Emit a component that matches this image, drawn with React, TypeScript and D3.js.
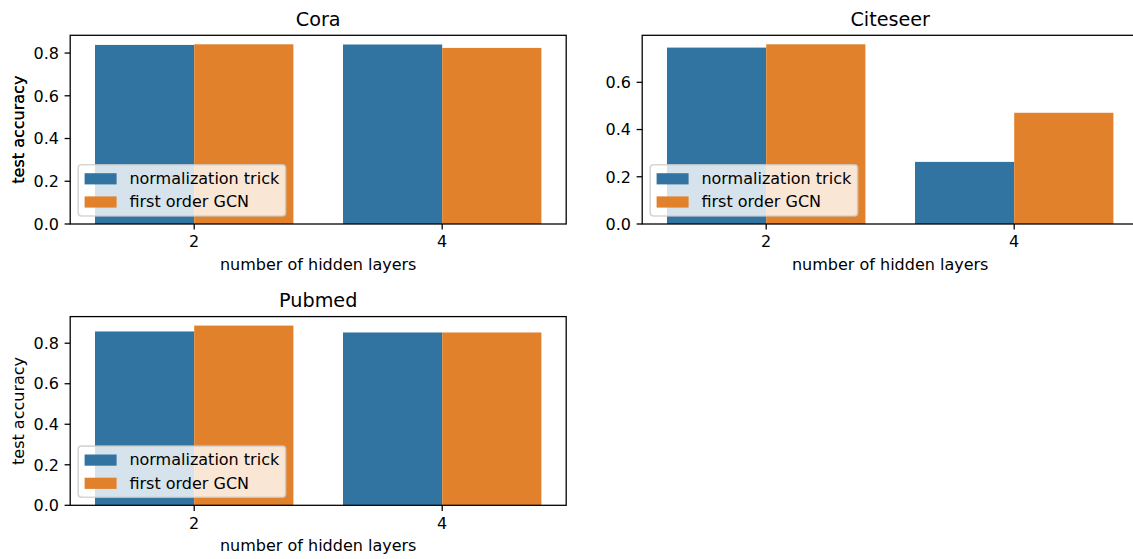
import React from "react";
import * as d3 from "d3";

// Hidden-layer settings on the x axis and the two model variants.
const layers = ["2", "4"];
const seriesNames = ["normalization trick", "first order GCN"];
const seriesColors = ["#3274a1", "#e1812c"];

// Test accuracy per dataset, one value per hidden-layer setting.
const coraNormTrick = [0.838, 0.840];
const coraFirstOrder = [0.841, 0.824];
const citeseerNormTrick = [0.747, 0.263];
const citeseerFirstOrder = [0.761, 0.471];
const pubmedNormTrick = [0.858, 0.853];
const pubmedFirstOrder = [0.887, 0.853];

// Y tick values shown on each panel.
const coraTicks = [0, 0.2, 0.4, 0.6, 0.8];
const citeseerTicks = [0, 0.2, 0.4, 0.6];
const pubmedTicks = [0, 0.2, 0.4, 0.6, 0.8];

const FONT = "DejaVu Sans, Verdana, sans-serif";
const FS = 16; // base font size (px)
const TITLE_FS = 19.2;
const LW = 1.28; // spine / tick line width
const TICK_LEN = 5.6;
const TICK_PAD = 5.6;

function measure(text: string, size: number): number {
  if (typeof document === "undefined") return text.length * size * 0.55;
  const c = document.createElement("canvas");
  const ctx = c.getContext("2d");
  if (!ctx) return text.length * size * 0.55;
  ctx.font = `${size}px DejaVu Sans`;
  return ctx.measureText(text).width;
}

type PanelProps = {
  title: string;
  left: number;
  top: number;
  width: number;
  height: number;
  values: number[][];
  ticks: number[];
};

function Panel({ title, left, top, width, height, values, ticks }: PanelProps) {
  const bottom = top + height;
  const right = left + width;
  const maxVal = d3.max(values.flat()) as number;

  const x = d3
    .scaleBand<string>()
    .domain(layers)
    .range([left, right])
    .paddingInner(0.2)
    .paddingOuter(0.1);
  const xs = d3
    .scaleBand<string>()
    .domain(seriesNames)
    .range([0, x.bandwidth()])
    .padding(0);
  const y = d3.scaleLinear().domain([0, maxVal * 1.05]).range([bottom, top]);
  const fmt = d3.format(".1f");

  // Legend geometry (matplotlib-style spacing in font-size units)
  const borderPad = 0.4 * FS;
  const handleLen = 2 * FS;
  const handleH = 0.7 * FS;
  const handleTextPad = 0.8 * FS;
  const labelSpacing = 0.5 * FS;
  const rowH = 0.95 * FS;
  const textW = Math.max(...seriesNames.map((s) => measure(s, FS)));
  const legW = borderPad * 2 + handleLen + handleTextPad + textW;
  const legH = borderPad * 2 + rowH * seriesNames.length + labelSpacing * (seriesNames.length - 1);
  const legX = left + 0.5 * FS;
  const legY = bottom - 0.5 * FS - legH;

  const cx = (left + right) / 2;
  const cy = (top + bottom) / 2;

  return (
    <g fontFamily={FONT} fill="#000">
      {/* bars */}
      {layers.map((layer, i) =>
        seriesNames.map((s, j) => {
          const v = values[j][i];
          const bx = (x(layer) as number) + (xs(s) as number);
          return (
            <rect
              key={`${layer}-${s}`}
              x={bx}
              y={y(v)}
              width={xs.bandwidth()}
              height={y(0) - y(v)}
              fill={seriesColors[j]}
            />
          );
        })
      )}

      {/* spines */}
      <rect
        x={left}
        y={top}
        width={width}
        height={height}
        fill="none"
        stroke="#000"
        strokeWidth={LW}
      />

      {/* y ticks */}
      {ticks.map((t) => (
        <g key={`y${t}`}>
          <line
            x1={left - TICK_LEN}
            x2={left}
            y1={y(t)}
            y2={y(t)}
            stroke="#000"
            strokeWidth={LW}
          />
          <text
            x={left - TICK_LEN - TICK_PAD}
            y={y(t)}
            dy="0.36em"
            fontSize={FS}
            textAnchor="end"
          >
            {fmt(t)}
          </text>
        </g>
      ))}

      {/* x ticks */}
      {layers.map((layer) => {
        const px = (x(layer) as number) + x.bandwidth() / 2;
        return (
          <g key={`x${layer}`}>
            <line
              x1={px}
              x2={px}
              y1={bottom}
              y2={bottom + TICK_LEN}
              stroke="#000"
              strokeWidth={LW}
            />
            <text x={px} y={bottom + 23.4} fontSize={FS} textAnchor="middle">
              {layer}
            </text>
          </g>
        );
      })}

      {/* axis labels and title */}
      <text x={cx} y={bottom + 45.8} fontSize={FS} textAnchor="middle">
        number of hidden layers
      </text>
      <text
        transform={`translate(${24},${cy}) rotate(-90)`}
        fontSize={FS}
        textAnchor="middle"
      >
        test accuracy
      </text>
      <text x={cx} y={top - 9.6} fontSize={TITLE_FS} textAnchor="middle">
        {title}
      </text>

      {/* legend */}
      <rect
        x={legX}
        y={legY}
        width={legW}
        height={legH}
        rx={0.2 * FS}
        ry={0.2 * FS}
        fill="#fff"
        fillOpacity={0.8}
        stroke="#cccccc"
        strokeOpacity={0.8}
        strokeWidth={1.6}
      />
      {seriesNames.map((s, j) => {
        const rowC = legY + borderPad + rowH / 2 + j * (rowH + labelSpacing);
        return (
          <g key={`leg${s}`}>
            <rect
              x={legX + borderPad}
              y={rowC - handleH / 2}
              width={handleLen}
              height={handleH}
              fill={seriesColors[j]}
            />
            <text
              x={legX + borderPad + handleLen + handleTextPad}
              y={rowC + 5.3}
              fontSize={FS}
            >
              {s}
            </text>
          </g>
        );
      })}
    </g>
  );
}

export default function App() {
  const W = 496;
  const H = 188.7;
  return (
    <svg
      width={1133}
      height={559}
      style={{ position: "absolute", left: 0, top: 0, background: "#fff" }}
    >
      <rect x={0} y={0} width={1133} height={559} fill="#fff" />
      <Panel
        title="Cora"
        left={70.2}
        top={35.3}
        width={W}
        height={H}
        values={[coraNormTrick, coraFirstOrder]}
        ticks={coraTicks}
      />
      <Panel
        title="Citeseer"
        left={642.2}
        top={35.3}
        width={W}
        height={H}
        values={[citeseerNormTrick, citeseerFirstOrder]}
        ticks={citeseerTicks}
      />
      <Panel
        title="Pubmed"
        left={70.2}
        top={316.6}
        width={W}
        height={H}
        values={[pubmedNormTrick, pubmedFirstOrder]}
        ticks={pubmedTicks}
      />
    </svg>
  );
}
